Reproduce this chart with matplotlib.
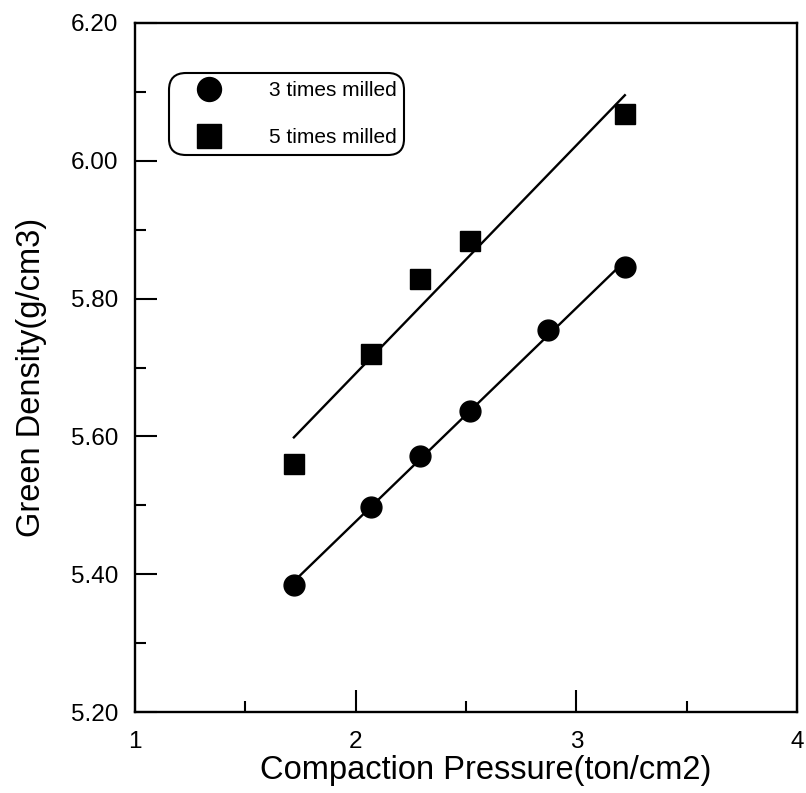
import numpy as np
import matplotlib
matplotlib.use("Agg")
import matplotlib.pyplot as plt

plt.rcParams['font.family'] = ['Liberation Sans', 'DejaVu Sans']

# Data
pressure_3x = [1.72, 2.07, 2.29, 2.52, 2.87, 3.22]
density_3x = [5.385, 5.497, 5.572, 5.637, 5.755, 5.846]
pressure_5x = [1.72, 2.07, 2.29, 2.52, 3.22]
density_5x = [5.560, 5.720, 5.828, 5.883, 6.068]

label_3x = "3 times milled"
label_5x = "5 times milled"
x_label = "Compaction Pressure(ton/cm2)"
y_label = "Green Density(g/cm3)"
x_ticks = [1, 2, 3, 4]
y_ticks = [5.20, 5.40, 5.60, 5.80, 6.00, 6.20]

fig = plt.figure(figsize=(8.06, 7.93), dpi=100)
ax = fig.add_axes([0.1675, 0.1021, 0.8213, 0.8689])

# linear regression lines
for xs, ys in ((pressure_3x, density_3x), (pressure_5x, density_5x)):
    xs = np.asarray(xs)
    k, b = np.polyfit(xs, np.asarray(ys), 1)
    xl = np.array([xs.min(), xs.max()])
    ax.plot(xl, k * xl + b, color='black', lw=1.7, zorder=2)

ax.plot(pressure_3x, density_3x, 'o', color='black', ms=15, ls='none',
        label=label_3x, zorder=3)
ax.plot(pressure_5x, density_5x, 's', color='black', ms=15, ls='none',
        label=label_5x, zorder=3)

ax.set_xlim(1, 4)
ax.set_ylim(5.20, 6.20)
ax.set_xticks(x_ticks)
ax.set_xticklabels([str(t) for t in x_ticks])
ax.set_yticks(y_ticks)
ax.set_yticklabels([f"{t:.2f}" for t in y_ticks])
ax.set_xticks([1.5, 2.5, 3.5], minor=True)
ax.set_yticks([5.30, 5.50, 5.70, 5.90, 6.10], minor=True)

ax.tick_params(axis='both', which='major', direction='in', length=16, width=1.5,
               labelsize=17.5, top=False, right=False)
ax.tick_params(axis='both', which='minor', direction='in', length=8, width=1.5,
               top=False, right=False)
ax.tick_params(axis='x', which='major', pad=14)
ax.tick_params(axis='y', which='major', pad=12)

for sp in ax.spines.values():
    sp.set_linewidth(1.7)

ax.set_xlabel(x_label, fontsize=23.5, labelpad=1)
ax.xaxis.set_label_coords(0.530, -0.062)
ax.set_ylabel(y_label, fontsize=23.5)
ax.yaxis.set_label_coords(-0.133, 0.486)

leg = ax.legend(loc='upper left', bbox_to_anchor=(0.0514, 0.927),
                borderaxespad=0, fontsize=15, markerscale=1.15,
                handlelength=3.05, handletextpad=1.36, borderpad=0.38,
                labelspacing=1.35, fancybox=True, frameon=True)
frame = leg.get_frame()
frame.set_edgecolor('black')
frame.set_linewidth(1.5)
frame.set_alpha(1)
frame.set_boxstyle('round', pad=0, rounding_size=0.8)

fig.savefig('out.png', dpi=100)
